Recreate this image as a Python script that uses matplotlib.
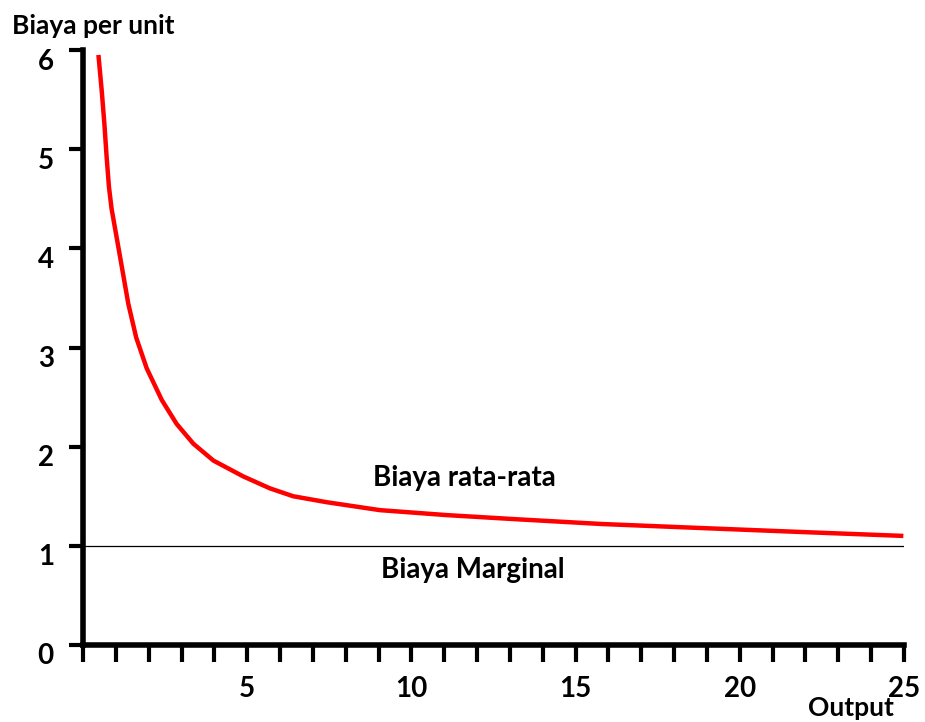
import matplotlib
matplotlib.use("Agg")
import matplotlib.pyplot as plt
from matplotlib.ticker import MultipleLocator, FuncFormatter
from matplotlib.transforms import ScaledTranslation

plt.rcParams['font.family'] = ['Lato', 'DejaVu Sans']
plt.rcParams['font.weight'] = 'bold'

# Average cost curve
output_x = [0.47, 0.57, 0.65, 0.72, 0.79, 0.87, 1.03, 1.20, 1.38, 1.62, 1.94, 2.40,
            2.85, 3.36, 3.97, 4.88, 5.69, 6.40, 7.42, 8.43, 9.04, 11.07, 13.1,
            15.8, 18.79, 21.83, 24.98]
avg_cost = [5.95, 5.59, 5.26, 4.92, 4.62, 4.40, 4.10, 3.78, 3.44, 3.10, 2.79, 2.47,
            2.23, 2.03, 1.86, 1.70, 1.58, 1.50, 1.44, 1.39, 1.36, 1.31, 1.27,
            1.22, 1.18, 1.14, 1.10]
marginal_cost = 1.0
x_labels = [5, 10, 15, 20, 25]
y_labels = [0, 1, 2, 3, 4, 5, 6]

W, H = 925, 722
fig = plt.figure(figsize=(W / 100, H / 100), dpi=100)
ax = fig.add_axes([83 / W, (H - 645) / H, (904 - 83) / W, (645 - 50) / H])
ax.set_xlim(0, 25)
ax.set_ylim(0, 6)

ax.plot(output_x, avg_cost, color='#ff0000', lw=3.2, solid_capstyle='butt',
        solid_joinstyle='round')
ax.plot([0, 25], [marginal_cost, marginal_cost], color='black', lw=0.9)

for s in ['top', 'right']:
    ax.spines[s].set_visible(False)
for s in ['left', 'bottom']:
    ax.spines[s].set_linewidth(4)

ax.xaxis.set_major_locator(MultipleLocator(1))
ax.xaxis.set_major_formatter(FuncFormatter(lambda v, p: f"{int(round(v))}" if int(round(v)) in x_labels else ""))
ax.set_yticks(y_labels)
ax.set_yticklabels([str(v) for v in y_labels])
ax.tick_params(axis='x', direction='out', length=12, width=3, pad=10, labelsize=20)
ax.tick_params(axis='y', direction='out', length=10, width=3, pad=11, labelsize=20)

off = ScaledTranslation(0, -9 / 100, fig.dpi_scale_trans)
for lab in ax.get_yticklabels():
    lab.set_transform(lab.get_transform() + off)

fig.text(12 / W, 1 - 26 / H, "Biaya per unit", fontsize=19, fontweight='bold',
         ha='left', va='center')
fig.text(851 / W, 1 - 716 / H, "Output", fontsize=19, fontweight='bold',
         ha='center', va='baseline')
ax.text(11.6, 1.68, "Biaya rata-rata", fontsize=20, fontweight='bold', ha='center', va='center')
ax.text(11.88, 0.76, "Biaya Marginal", fontsize=20, fontweight='bold', ha='center', va='center')

fig.savefig("out.png", dpi=100)
